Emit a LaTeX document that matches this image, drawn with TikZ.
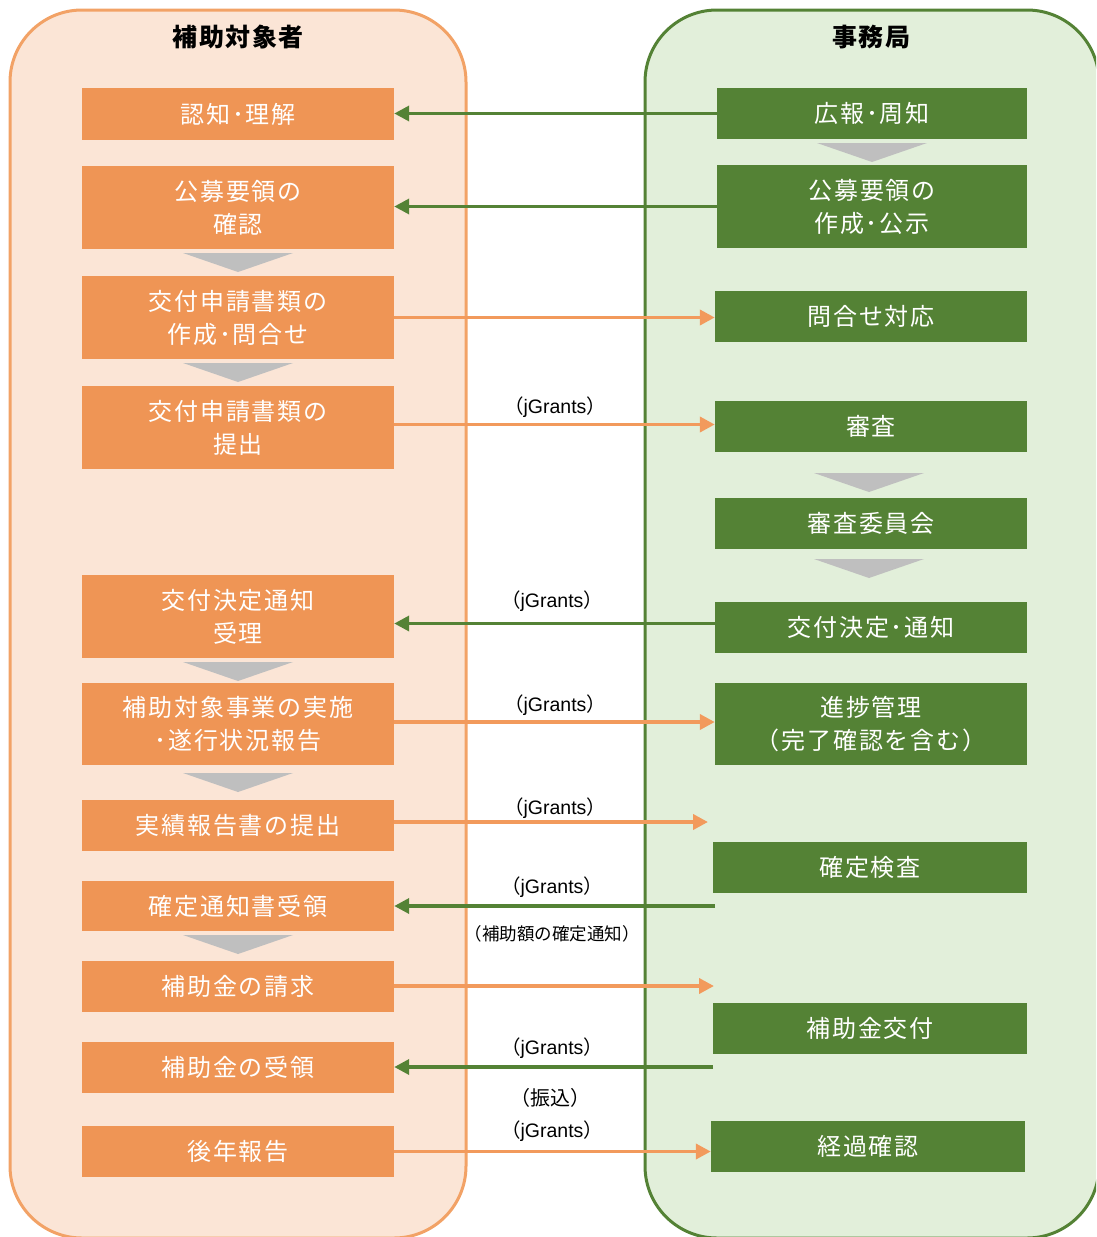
\documentclass[tikz,border=0pt]{standalone}
\usepackage{fontspec}
\usetikzlibrary{arrows.meta}
\newfontfamily\jp{Noto Sans CJK JP}
\newfontfamily\jpsp{Noto Sans CJK JP}[LetterSpace=8]
\newfontfamily\jphd{Noto Sans CJK JP}[LetterSpace=6]
\newfontfamily\latf{Liberation Sans}
\definecolor{laneOf}{HTML}{FBE5D6}
\definecolor{laneOd}{HTML}{F2A266}
\definecolor{boxO}{HTML}{EF9555}
\definecolor{arrO}{HTML}{F29A5C}
\definecolor{laneGf}{HTML}{E2EFDA}
\definecolor{boxG}{HTML}{548235}
\definecolor{chevC}{HTML}{BFBFBF}
\newcommand\boxf{\jpsp\fontsize{24pt}{33pt}\selectfont}
\newcommand\lblf{\fontsize{19.5pt}{22pt}\selectfont}
\newcommand\jgr{{\jp （}{\latf jGrants}{\jp ）}}
\newcommand\chevdown[2]{\fill[chevC] (#1-55,#2) -- (#1+55,#2) -- (#1,#2+19) -- cycle;}
\begin{document}
\begin{tikzpicture}[x=1pt,y=-1pt,
  obox/.style={fill=boxO, text=white, minimum width=312pt, inner sep=0pt, align=center, font=\boxf},
  gbox/.style={fill=boxG, text=white, minimum width=312pt, inner sep=0pt, align=center, font=\boxf},
  oarr/.style={draw=arrO, line width=3.8pt, -{Triangle[length=15pt,width=15pt]}},
  garr/.style={draw=boxG, line width=3.5pt, -{Triangle[length=15pt,width=15pt]}},
  lbl/.style={font=\lblf, inner sep=0pt},
  hdr/.style={font=\jphd\fontsize{25pt}{28pt}\selectfont\bfseries, inner sep=0pt}]
\useasboundingbox (0,0) rectangle (1096,1237);
\clip (0,0) rectangle (1096,1237);
% lanes
\draw[fill=laneOf, draw=laneOd, line width=3pt, rounded corners=72pt] (10,10) rectangle (466,1238);
\draw[fill=laneGf, draw=boxG, line width=3pt, rounded corners=72pt] (645,10) rectangle (1099,1238);
\node[hdr] (h1) at (238,37) {補助対象者};
\node[hdr] (h2) at (871,37) {事務局};
% left boxes
\node[obox, minimum height=52pt] (l1) at (238,114) {認知･理解};
\node[obox, minimum height=83pt] (l2) at (238,207.5) {公募要領の\\確認};
\node[obox, minimum height=83pt] (l3) at (238,317.5) {交付申請書類の\\作成･問合せ};
\node[obox, minimum height=83pt] (l4) at (238,427.5) {交付申請書類の\\提出};
\node[obox, minimum height=83pt] (l5) at (238,616.5) {交付決定通知\\受理};
\node[obox, minimum height=82pt] (l6) at (238,724) {補助対象事業の実施\\･遂行状況報告};
\node[obox, minimum height=51pt] (l7) at (238,825.5) {実績報告書の提出};
\node[obox, minimum height=50pt] (l8) at (238,906) {確定通知書受領};
\node[obox, minimum height=51pt] (l9) at (238,986.5) {補助金の請求};
\node[obox, minimum height=51pt] (l10) at (238,1067.5) {補助金の受領};
\node[obox, minimum height=51pt] (l11) at (238,1151.5) {後年報告};
\chevdown{238}{253}
\chevdown{238}{363}
\chevdown{238}{662}
\chevdown{238}{773}
\chevdown{238}{935}
% right boxes
\node[gbox, minimum width=310pt, minimum height=51pt] (r1) at (872,113.5) {広報･周知};
\node[gbox, minimum width=310pt, minimum height=83pt] (r2) at (872,206.5) {公募要領の\\作成･公示};
\node[gbox, minimum height=51pt] (r3) at (871,316.5) {問合せ対応};
\node[gbox, minimum height=51pt] (r4) at (871,426.5) {審査};
\node[gbox, minimum height=51pt] (r5) at (871,523.5) {審査委員会};
\node[gbox, minimum height=51pt] (r6) at (871,627.5) {交付決定･通知};
\node[gbox, minimum height=82pt] (r7) at (871,724) {進捗管理\\（完了確認を含む）};
\node[gbox, minimum width=314pt, minimum height=51pt] (r8) at (870,867.5) {確定検査};
\node[gbox, minimum width=314pt, minimum height=51pt] (r9) at (870,1028.5) {補助金交付};
\node[gbox, minimum width=314pt, minimum height=51pt] (r10) at (868,1146.5) {経過確認};
\chevdown{872}{143}
\chevdown{869}{473}
\chevdown{869}{559}
% free ends
\coordinate (e7) at (708,822);
\coordinate (s8) at (715,906);
\coordinate (e9) at (714,986);
\coordinate (s10) at (713,1067);
% connectors
\draw[garr] (r1.west) -- (r1.west -| l1.east);
\draw[garr] (r2.west) -- (r2.west -| l2.east);
\draw[oarr] (l3.east) -- (l3.east -| r3.west);
\draw[oarr] ([yshift=3pt]l4.east) -- ([yshift=3pt]l4.east -| r4.west);
\draw[garr] ([yshift=4pt]r6.west) -- ([yshift=4pt]r6.west -| l5.east);
\draw[oarr] ([yshift=2pt]l6.east) -- ([yshift=2pt]l6.east -| r7.west);
\draw[oarr] (l7.east |- e7) -- (e7);
\draw[garr] (s8) -- (s8 -| l8.east);
\draw[oarr] (l9.east |- e9) -- (e9);
\draw[garr] (s10) -- (s10 -| l10.east);
\draw[oarr] (l11.east) -- (l11.east -| r10.west);
% labels
\node[lbl] (t4) at (555,407) {\jgr};
\node[lbl] (t5) at (552,601) {\jgr};
\node[lbl] (t6) at (555,705) {\jgr};
\node[lbl] (t7) at (555,808) {\jgr};
\node[lbl] (t8) at (552,887) {\jgr};
\node[lbl, font=\jp\fontsize{17.5pt}{20pt}\selectfont] (t8b) at (552,934) {（補助額の確定通知）};
\node[lbl, font=\jp\fontsize{20pt}{22pt}\selectfont] (t10b) at (550,1098) {（振込）};
\node[lbl] (t10) at (552,1048) {\jgr};
\node[lbl] (t11) at (552,1131) {\jgr};
\end{tikzpicture}
\end{document}
